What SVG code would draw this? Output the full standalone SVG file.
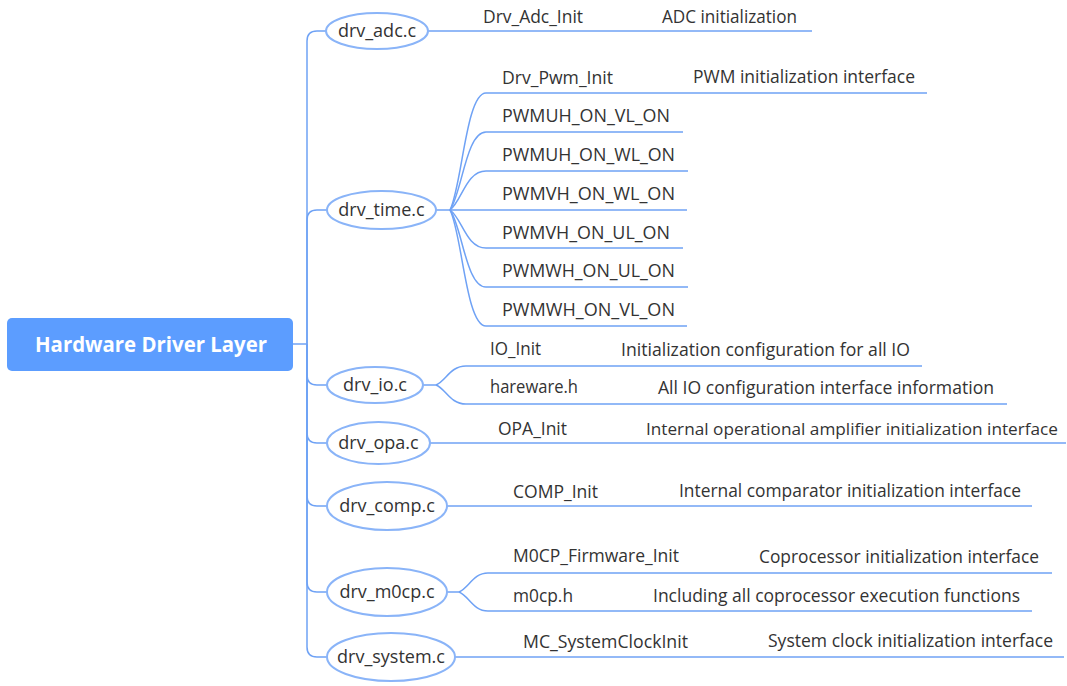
<svg xmlns="http://www.w3.org/2000/svg" width="1067" height="686" viewBox="0 0 1067 686">
<style>
.t{font-family:"Open Sans","Noto Sans",sans-serif;font-size:18px;fill:#333333}
.s{font-size:17px}
.lbl{font-family:"Open Sans","Noto Sans",sans-serif;font-size:18px;fill:#333333;text-anchor:middle}
.ell{fill:#ffffff;stroke:#8ab4f8;stroke-width:2}
.c{fill:none;stroke:#6fa2f5;stroke-width:1.5}
.root{fill:#5c9dff}
.rt{font-family:"Open Sans","Noto Sans",sans-serif;font-size:21px;font-weight:bold;fill:#ffffff}
</style>
<rect width="1067" height="686" fill="#ffffff"/>
<g id="connectors">
<path class="c" d="M293,344 H307"/>
<path class="c" d="M307,344 V41 Q307,31 317,31 H326"/>
<path class="c" d="M307,344 V220 Q307,210 317,210 H327"/>
<path class="c" d="M307,344 V375 Q307,385 317,385 H327"/>
<path class="c" d="M307,344 V433 Q307,443 317,443 H327"/>
<path class="c" d="M307,344 V496 Q307,506 317,506 H327"/>
<path class="c" d="M307,344 V582 Q307,592 317,592 H327"/>
<path class="c" d="M307,344 V647 Q307,657 317,657 H327"/>
<path class="c" d="M428,31 H812"/>
<path class="c" d="M436,210 H687"/>
<path class="c" d="M450,210 C462,186 466,93 486,93 H927"/>
<path class="c" d="M450,210 C462,193 466,132 486,132 H683"/>
<path class="c" d="M450,210 C462,201 466,171 486,171 H688"/>
<path class="c" d="M450,210 C462,218 466,248 486,248 H683"/>
<path class="c" d="M450,210 C462,226 466,287 486,287 H688"/>
<path class="c" d="M450,210 C462,233 466,326 486,326 H687"/>
<path class="c" d="M423,385 H436"/>
<path class="c" d="M436,385 C446,381 450,366 466,366 H922"/>
<path class="c" d="M436,385 C446,389 450,404 466,404 H1007"/>
<path class="c" d="M430,443 H1066"/>
<path class="c" d="M447,506 H1032"/>
<path class="c" d="M447,592 H459"/>
<path class="c" d="M459,592 C469,588 473,573 488,573 H1052"/>
<path class="c" d="M459,592 C469,596 473,611 488,611 H1032"/>
<path class="c" d="M455,657 H1064"/>
</g>
<g id="root">
<rect class="root" x="7" y="318" width="286" height="53" rx="5"/>
<text class="rt" x="35" y="352" textLength="232" lengthAdjust="spacingAndGlyphs">Hardware Driver Layer</text>
</g>
<g id="drv_adc">
<ellipse class="ell" cx="377" cy="31" rx="51" ry="18"/>
<text class="lbl" x="377" y="37">drv_adc.c</text>
</g>
<g id="drv_time">
<ellipse class="ell" cx="381.5" cy="210" rx="54.5" ry="19"/>
<text class="lbl" x="381.5" y="216">drv_time.c</text>
</g>
<g id="drv_io">
<ellipse class="ell" cx="375" cy="385" rx="48" ry="18"/>
<text class="lbl" x="375" y="391">drv_io.c</text>
</g>
<g id="drv_opa">
<ellipse class="ell" cx="378.5" cy="443" rx="51.5" ry="21"/>
<text class="lbl" x="378.5" y="449">drv_opa.c</text>
</g>
<g id="drv_comp">
<ellipse class="ell" cx="387" cy="506" rx="60" ry="24"/>
<text class="lbl" x="387" y="512">drv_comp.c</text>
</g>
<g id="drv_m0cp">
<ellipse class="ell" cx="387" cy="592" rx="60" ry="24"/>
<text class="lbl" x="387" y="598">drv_m0cp.c</text>
</g>
<g id="drv_system">
<ellipse class="ell" cx="391" cy="657" rx="64" ry="24"/>
<text class="lbl" x="391" y="663">drv_system.c</text>
</g>
<g id="adc_items">
<text class="t" x="483" y="23" textLength="100" lengthAdjust="spacingAndGlyphs">Drv_Adc_Init</text>
<text class="t" x="662" y="23" textLength="135" lengthAdjust="spacingAndGlyphs">ADC initialization</text>
</g>
<g id="time_items">
<text class="t" x="502" y="84" textLength="111" lengthAdjust="spacingAndGlyphs">Drv_Pwm_Init</text>
<text class="t" x="693" y="83" textLength="222" lengthAdjust="spacingAndGlyphs">PWM initialization interface</text>
<text class="t" x="502" y="122" textLength="168" lengthAdjust="spacingAndGlyphs">PWMUH_ON_VL_ON</text>
<text class="t" x="502" y="161" textLength="173" lengthAdjust="spacingAndGlyphs">PWMUH_ON_WL_ON</text>
<text class="t" x="502" y="200" textLength="173" lengthAdjust="spacingAndGlyphs">PWMVH_ON_WL_ON</text>
<text class="t" x="502" y="239" textLength="168" lengthAdjust="spacingAndGlyphs">PWMVH_ON_UL_ON</text>
<text class="t" x="502" y="277" textLength="173" lengthAdjust="spacingAndGlyphs">PWMWH_ON_UL_ON</text>
<text class="t" x="502" y="316" textLength="173" lengthAdjust="spacingAndGlyphs">PWMWH_ON_VL_ON</text>
</g>
<g id="io_items">
<text class="t" x="490" y="355" textLength="51" lengthAdjust="spacingAndGlyphs">IO_Init</text>
<text class="t" x="621" y="356" textLength="289" lengthAdjust="spacingAndGlyphs">Initialization configuration for all IO</text>
<text class="t" x="490" y="393" textLength="88" lengthAdjust="spacingAndGlyphs">hareware.h</text>
<text class="t" x="658" y="394" textLength="336" lengthAdjust="spacingAndGlyphs">All IO configuration interface information</text>
</g>
<g id="opa_items">
<text class="t" x="498" y="435" textLength="69" lengthAdjust="spacingAndGlyphs">OPA_Init</text>
<text class="t s" x="646" y="435" textLength="412" lengthAdjust="spacingAndGlyphs">Internal operational amplifier initialization interface</text>
</g>
<g id="comp_items">
<text class="t" x="513" y="498" textLength="85" lengthAdjust="spacingAndGlyphs">COMP_Init</text>
<text class="t" x="679" y="497" textLength="342" lengthAdjust="spacingAndGlyphs">Internal comparator initialization interface</text>
</g>
<g id="m0cp_items">
<text class="t" x="513" y="562" textLength="166" lengthAdjust="spacingAndGlyphs">M0CP_Firmware_Init</text>
<text class="t" x="759" y="563" textLength="280" lengthAdjust="spacingAndGlyphs">Coprocessor initialization interface</text>
<text class="t" x="513" y="602" textLength="60" lengthAdjust="spacingAndGlyphs">m0cp.h</text>
<text class="t" x="653" y="602" textLength="367" lengthAdjust="spacingAndGlyphs">Including all coprocessor execution functions</text>
</g>
<g id="system_items">
<text class="t" x="523" y="648" textLength="165" lengthAdjust="spacingAndGlyphs">MC_SystemClockInit</text>
<text class="t" x="768" y="647" textLength="285" lengthAdjust="spacingAndGlyphs">System clock initialization interface</text>
</g>
</svg>
